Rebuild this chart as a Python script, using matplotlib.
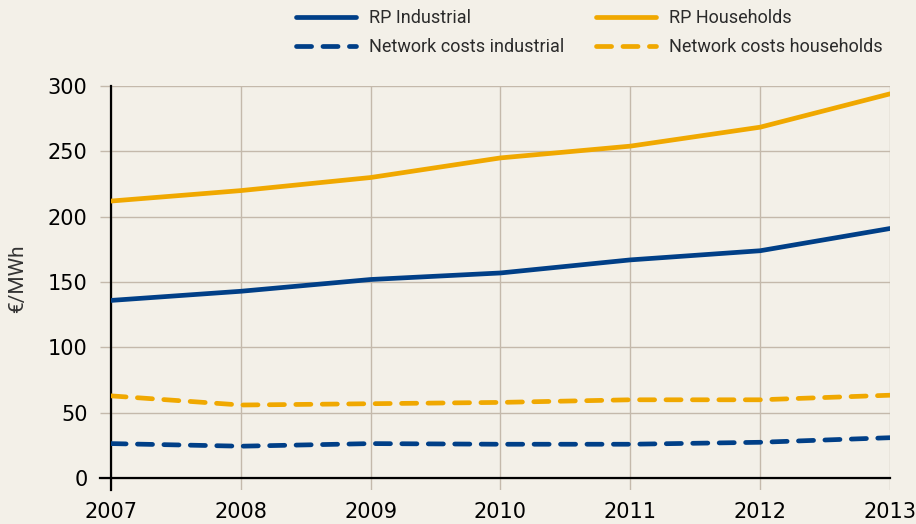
import matplotlib
matplotlib.use("Agg")
import matplotlib.pyplot as plt

# Data (EUR/MWh)
years = [2007, 2008, 2009, 2010, 2011, 2012, 2013]
rp_industrial = [136, 143, 152, 157, 167, 174, 191]
rp_households = [212, 220, 230, 245, 254, 268.5, 294]
net_industrial = [26.5, 24.5, 26.5, 26, 26, 27.5, 31]
net_households = [63, 56, 57, 58, 60, 60, 63.5]

blue = "#003f87"
gold = "#f0a800"
bg = "#f3f0e8"
gridc = "#c4b9ab"

plt.rcParams["font.family"] = ["DejaVu Sans"]

fig = plt.figure(figsize=(9.16, 5.24), dpi=100, facecolor=bg)
ax = fig.add_axes([111 / 916, 34 / 524, 779 / 916, 404 / 524], facecolor=bg)

lw = 3.4
dash = (3.2, 2.4)
ax.plot(years, rp_industrial, color=blue, lw=lw, solid_capstyle="round", label="RP Industrial", zorder=3)
ax.plot(years, net_industrial, color=blue, lw=lw, dashes=dash, dash_capstyle="round",
        label="Network costs industrial", zorder=3)
ax.plot(years, rp_households, color=gold, lw=lw, solid_capstyle="round", label="RP Households", zorder=3)
ax.plot(years, net_households, color=gold, lw=lw, dashes=dash, dash_capstyle="round",
        label="Network costs households", zorder=3)

ax.set_xlim(2007, 2013)
ax.set_ylim(-9, 300)
ax.set_xticks(years)
ax.set_yticks(range(0, 301, 50))
ax.grid(True, color=gridc, lw=1)
ax.set_axisbelow(True)

for s in ["top", "right", "bottom"]:
    ax.spines[s].set_visible(False)
ax.spines["left"].set_color("black")
ax.spines["left"].set_linewidth(1.6)
ax.axhline(0, xmin=-11 / 779, xmax=1, color="black", lw=1.6, clip_on=False, zorder=2)

ax.tick_params(axis="y", length=8, width=1, color=gridc, pad=9, labelsize=15)
ax.tick_params(axis="x", length=0, pad=9, labelsize=15)

ax.set_ylabel("€/MWh", fontsize=15, color="#333333", family=["Roboto", "DejaVu Sans"])
ax.yaxis.set_label_coords(-0.108, 0.522)

leg = fig.legend(loc="upper left", bbox_to_anchor=(296 / 916, 1 - 9 / 524), ncol=2, frameon=False,
                 prop={"family": ["Liberation Sans Narrow", "Roboto"], "size": 13},
                 handlelength=3.3, handletextpad=0.75, columnspacing=1.75, labelspacing=0.6,
                 borderpad=0, borderaxespad=0)
for t in leg.get_texts():
    t.set_color("#2b2b2b")

fig.savefig("out.png", dpi=100, facecolor=bg)
